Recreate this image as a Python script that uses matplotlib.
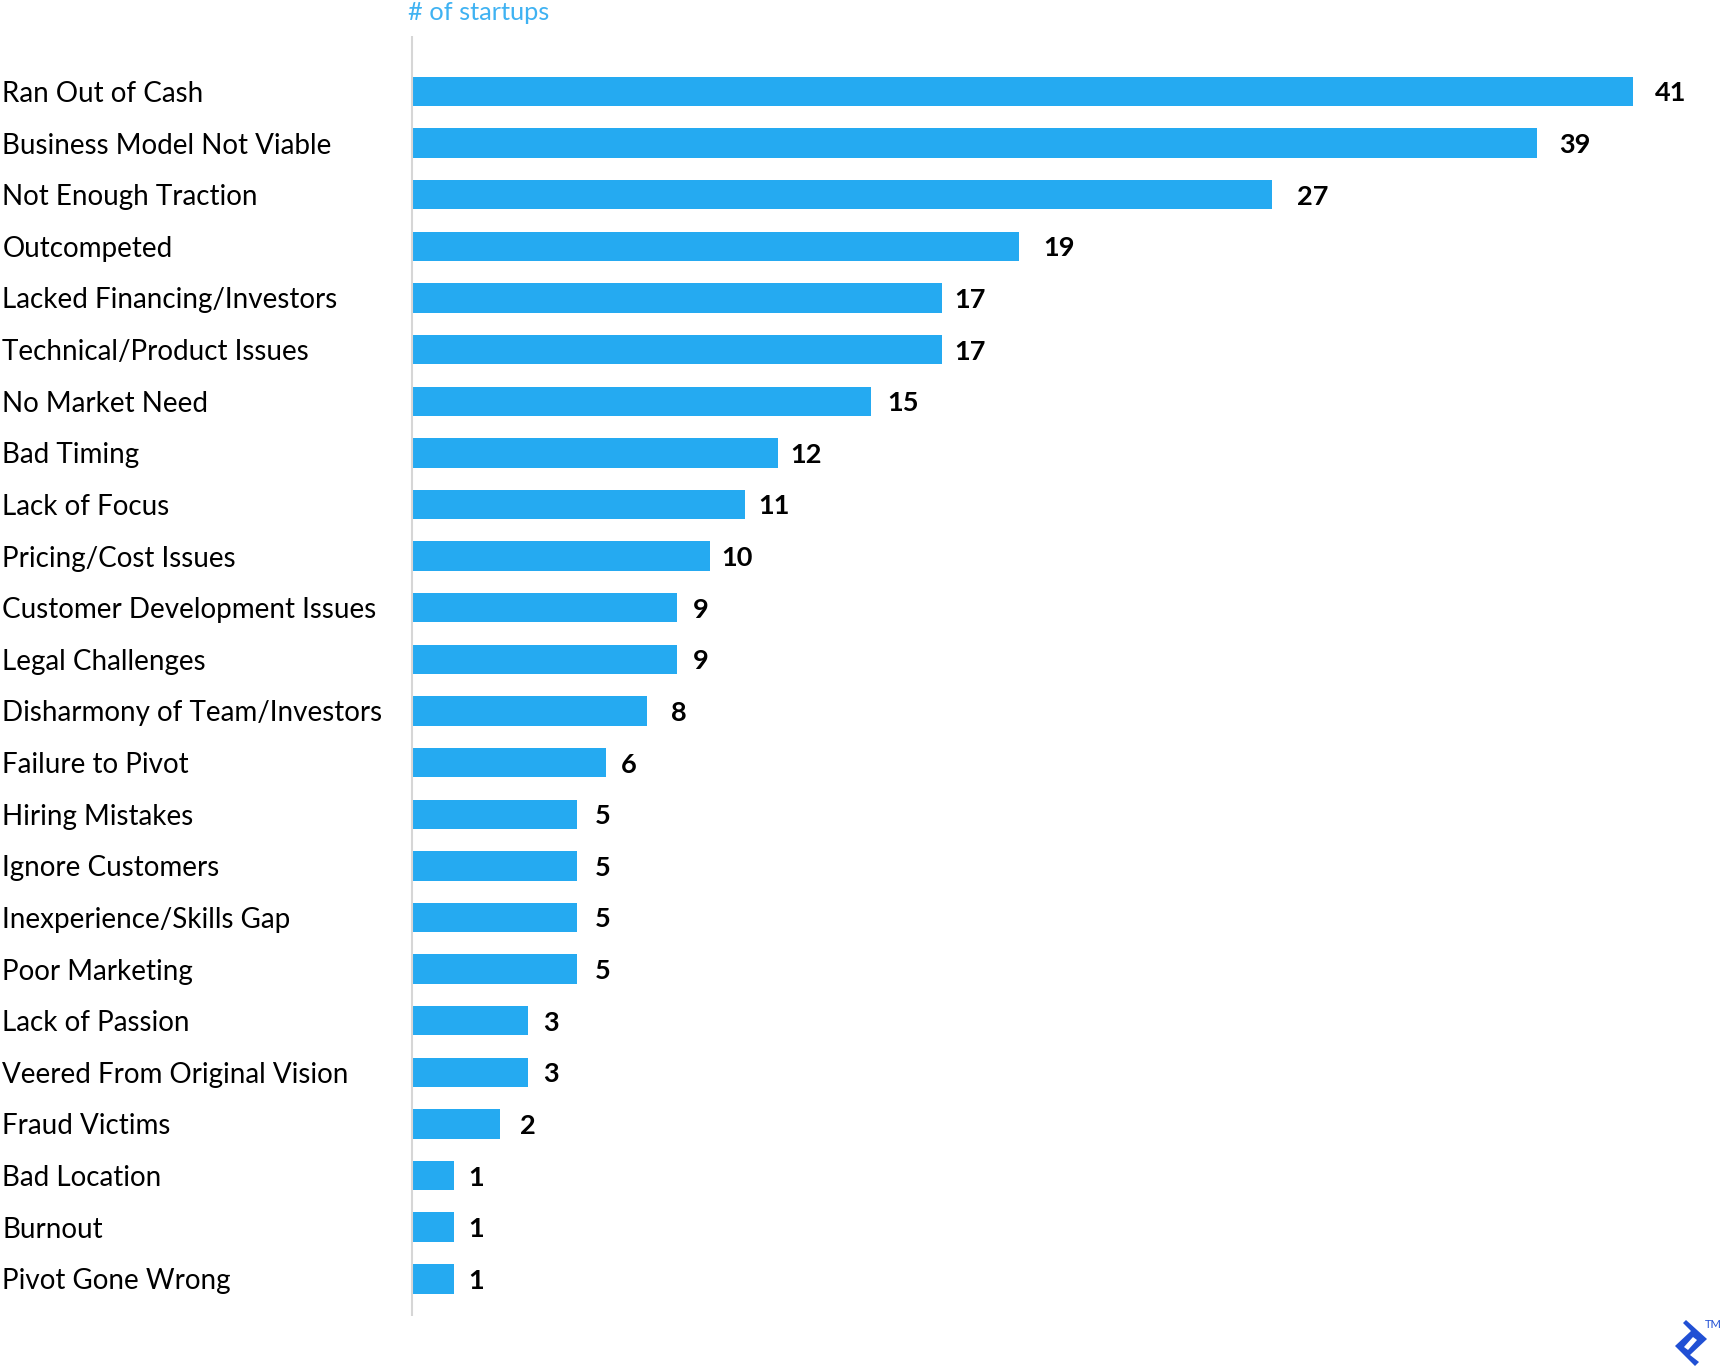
import matplotlib.pyplot as plt

reasons = [
    'Ran Out of Cash', 'Business Model Not Viable', 'Not Enough Traction', 'Outcompeted',
    'Lacked Financing/Investors', 'Technical/Product Issues', 'No Market Need', 'Bad Timing',
    'Lack of Focus', 'Pricing/Cost Issues', 'Customer Development Issues', 'Legal Challenges',
    'Disharmony of Team/Investors', 'Failure to Pivot', 'Hiring Mistakes', 'Ignore Customers',
    'Inexperience/Skills Gap', 'Poor Marketing', 'Lack of Passion', 'Veered From Original Vision',
    'Fraud Victims', 'Bad Location', 'Burnout', 'Pivot Gone Wrong'
]
# what the labels say
counts = [41, 39, 27, 19, 17, 17, 15, 12, 11, 10, 9, 9, 8, 6, 5, 5, 5, 5, 3, 3, 2, 1, 1, 1]
# how long the bars are really drawn, the picture does not keep them in proportion
bar_lengths = [41.0, 37.8, 28.9, 20.4, 17.8, 17.8, 15.4, 12.3, 11.2, 10.0, 8.9, 8.9,
               7.9, 6.5, 5.55, 5.55, 5.55, 5.55, 3.9, 3.9, 2.95, 1.4, 1.4, 1.4]
# space between bar end and number, in pixels
label_gaps = [22, 22, 25, 24, 12, 12, 17, 12, 13, 12, 16, 16, 24, 15, 18, 18, 18, 18, 15, 15, 20, 15, 15, 15]

WIDTH = 1720
HEIGHT = 1366
BAR_BLUE = '#25aaf1'
LOGO_BLUE = '#2150d4'

logo_outline = [(1686, 1320), (1707, 1339), (1690, 1355), (1699, 1362), (1695, 1366),
                (1675, 1346), (1691, 1331), (1683, 1323)]
logo_slot = [(1684, 1347), (1693, 1337), (1697, 1340), (1688, 1350)]


def to_fig(points):
    return [(x / WIDTH, 1 - y / HEIGHT) for x, y in points]


def draw_logo():
    fig = plt.gcf()
    fig.add_artist(plt.Polygon(to_fig(logo_outline), closed=True, color=LOGO_BLUE, lw=0))
    fig.add_artist(plt.Polygon(to_fig(logo_slot), closed=True, color='white', lw=0))
    plt.figtext(1705 / WIDTH, 1 - 1325 / HEIGHT, 'TM', color=LOGO_BLUE, fontsize=8, va='center')


def draw_labels():
    for i in range(len(counts)):
        plt.annotate(str(counts[i]), (bar_lengths[i], i), xytext=(label_gaps[i] * 0.72, -1.4),
                     textcoords='offset points', va='center', ha='left',
                     fontsize=19.5, fontweight='bold', color='black')


def draw_chart():
    plt.rcParams['font.family'] = 'Lato'
    plt.figure(figsize=(WIDTH / 100, HEIGHT / 100), dpi=100)
    plt.axes((412 / WIDTH, 1 - 1316 / HEIGHT, (WIDTH - 412) / WIDTH, 1280 / HEIGHT))

    plt.barh(range(len(reasons)), bar_lengths, height=0.57, color=BAR_BLUE)
    plt.xlim(0, 43.93)
    plt.ylim(23.72, -1.075)
    plt.xticks([])
    plt.yticks(range(len(reasons)), reasons, fontsize=20, ha='left')
    plt.tick_params(axis='y', length=0, pad=295)

    ax = plt.gca()
    for side in ['top', 'right', 'bottom']:
        ax.spines[side].set_visible(False)
    ax.spines['left'].set_color('#d6d6d6')
    ax.spines['left'].set_linewidth(1.5)
    ax.spines['left'].set_capstyle('butt')

    draw_labels()
    plt.figtext(408 / WIDTH, 1 - 12 / HEIGHT, '# of startups', color='#3fb2f2', fontsize=18.3, va='center')
    draw_logo()


if __name__ == '__main__':
    draw_chart()
    plt.savefig('out.png', dpi=100)
